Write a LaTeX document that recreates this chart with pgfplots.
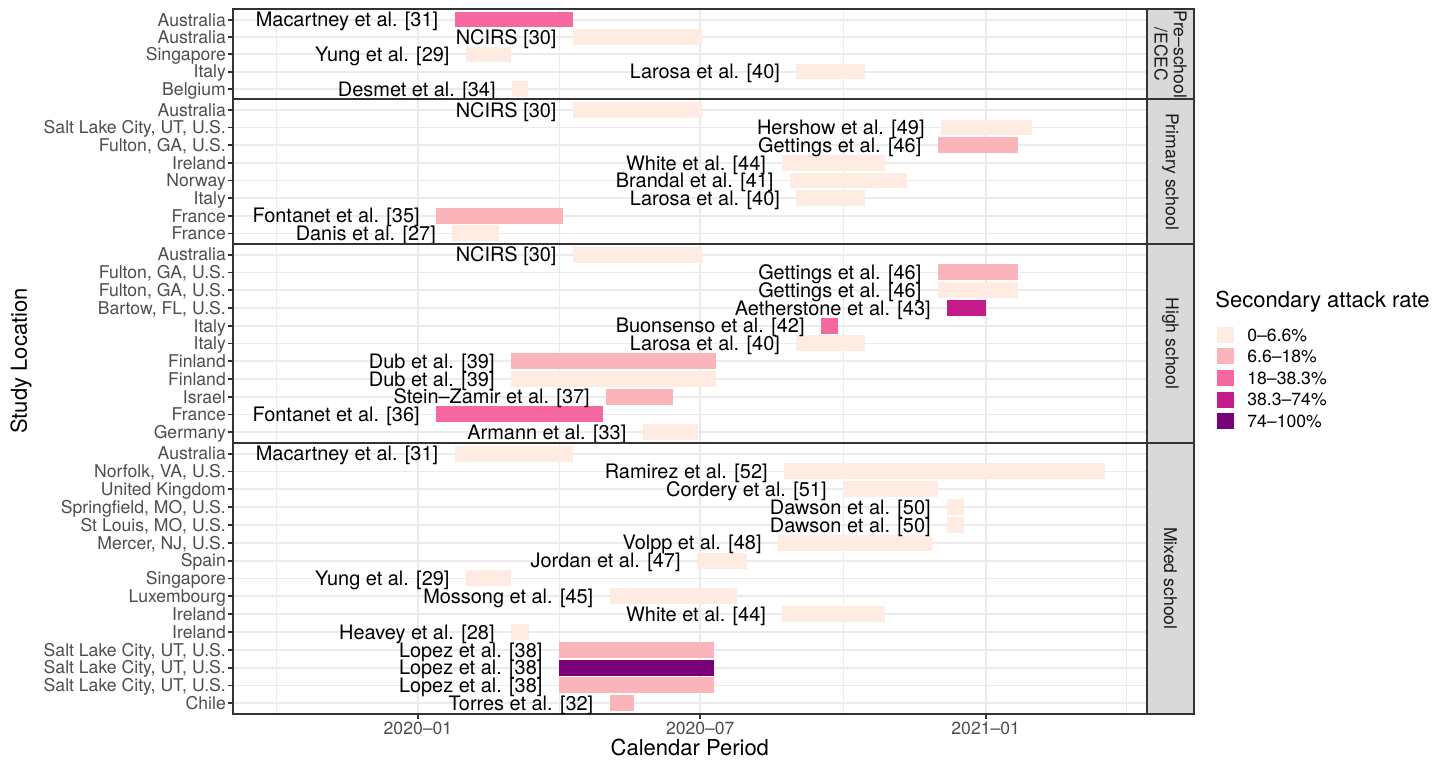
\documentclass[border=0pt]{standalone}
\usepackage{pgfplots}
\pgfplotsset{compat=1.18}
\usepackage{fontspec}
\setmainfont{TeX Gyre Heros}
\definecolor{c1}{HTML}{FEEBE2}
\definecolor{c2}{HTML}{FBB4B9}
\definecolor{c3}{HTML}{F768A1}
\definecolor{c4}{HTML}{C51B8A}
\definecolor{c5}{HTML}{7A0177}
\definecolor{gridc}{HTML}{EBEBEB}
\definecolor{framec}{HTML}{333333}
\definecolor{ticktxt}{HTML}{4D4D4D}
\definecolor{stripc}{HTML}{D9D9D9}
\definecolor{striptxt}{HTML}{1A1A1A}
\newcommand{\tickfont}{\fontsize{8.8}{10}\selectfont}
\newcommand{\labfont}{\fontsize{9.96}{11}\selectfont}
\newcommand{\bb}[5]{\addplot[fill=#5, draw=none] coordinates {(#1,#3) (#2,#3) (#2,#4) (#1,#4)} -- cycle;}
\newcommand{\lab}[3]{\node[anchor=base east, inner sep=0pt, xshift=-8pt, yshift=-3.6pt, font=\labfont] at (axis cs:#1,#2) {#3};}
\pgfplotsset{
  panel/.style={
    scale only axis, width=456.75pt,
    xmin=-119.1, xmax=469.8,
    y dir=reverse, ymin=0.4,
    axis line style={framec, line width=0.9pt},
    xmajorgrids, xminorgrids, ymajorgrids,
    major grid style={gridc, line width=0.9pt},
    minor grid style={gridc, line width=0.45pt},
    xtick={0,182,366},
    minor xtick={-91.5,91,274,457},
    xtick pos=bottom,
    ytick pos=left,
    tick align=outside,
    major tick length=2.5pt,
    minor tick length=0pt,
    tick style={framec, line width=0.9pt},
    yticklabel style={font=\tickfont, text=ticktxt, anchor=base east, inner sep=0pt, xshift=-1pt, yshift=-3.17pt},
    xticklabel style={font=\tickfont, text=ticktxt, inner sep=0pt, yshift=-1.5pt},
    anchor=south west,
  },
  upper/.style={xticklabels={,,}, xtick style={draw=none}},
}
\begin{document}
\begin{tikzpicture}
\useasboundingbox (0,0) rectangle (719.5pt,381pt);
% Panel 1: Pre-school / ECEC
\begin{axis}[panel, upper, at={(116.6pt,331.35pt)}, height=45pt, ymax=5.6,
  ytick={1,...,5},
  yticklabels={Australia, Australia, Singapore, Italy, Belgium}]
\bb{23.6}{99.9}{0.55}{1.45}{c3}
\bb{99.9}{182.8}{1.55}{2.45}{c1}
\bb{30.9}{59.7}{2.55}{3.45}{c1}
\bb{243.9}{288.2}{3.55}{4.45}{c1}
\bb{60.6}{70.9}{4.55}{5.45}{c1}
\lab{23.6}{1}{Macartney et al. [31]}
\lab{99.9}{2}{NCIRS [30]}
\lab{30.9}{3}{Yung et al. [29]}
\lab{243.9}{4}{Larosa et al. [40]}
\lab{60.6}{5}{Desmet et al. [34]}
\end{axis}
% Panel 2: Primary school
\begin{axis}[panel, upper, at={(116.6pt,259pt)}, height=72.35pt, ymax=8.6,
  ytick={1,...,8},
  yticklabels={Australia, {Salt Lake City, UT, U.S.}, {Fulton, GA, U.S.}, Ireland, Norway, Italy, France, France}]
\bb{99.9}{182.8}{0.55}{1.45}{c1}
\bb{337.2}{395.9}{1.55}{2.45}{c1}
\bb{335.1}{387.0}{2.55}{3.45}{c2}
\bb{234.9}{301.1}{3.55}{4.45}{c1}
\bb{239.8}{315.1}{4.55}{5.45}{c1}
\bb{243.9}{288.2}{5.55}{6.45}{c1}
\bb{11.7}{93.7}{6.55}{7.45}{c2}
\bb{22.1}{52.0}{7.55}{8.45}{c1}
\lab{99.9}{1}{NCIRS [30]}
\lab{337.2}{2}{Hershow et al. [49]}
\lab{335.1}{3}{Gettings et al. [46]}
\lab{234.9}{4}{White et al. [44]}
\lab{239.8}{5}{Brandal et al. [41]}
\lab{243.9}{6}{Larosa et al. [40]}
\lab{11.7}{7}{Fontanet et al. [35]}
\lab{22.1}{8}{Danis et al. [27]}
\end{axis}
% Panel 3: High school
\begin{axis}[panel, upper, at={(116.6pt,159.55pt)}, height=99.45pt, ymax=11.6,
  ytick={1,...,11},
  yticklabels={Australia, {Fulton, GA, U.S.}, {Fulton, GA, U.S.}, {Bartow, FL, U.S.}, Italy, Italy, Finland, Finland, Israel, France, Germany}]
\bb{99.9}{182.8}{0.55}{1.45}{c1}
\bb{335.1}{387.0}{1.55}{2.45}{c2}
\bb{335.1}{387.0}{2.55}{3.45}{c1}
\bb{341.1}{366.0}{3.55}{4.45}{c4}
\bb{259.8}{271.0}{4.55}{5.45}{c3}
\bb{243.9}{288.2}{5.55}{6.45}{c1}
\bb{60.0}{192.3}{6.55}{7.45}{c2}
\bb{60.0}{192.3}{7.55}{8.45}{c1}
\bb{121.3}{164.7}{8.55}{9.45}{c2}
\bb{11.7}{119.5}{9.55}{10.45}{c3}
\bb{144.9}{180.5}{10.55}{11.45}{c1}
\lab{99.9}{1}{NCIRS [30]}
\lab{335.1}{2}{Gettings et al. [46]}
\lab{335.1}{3}{Gettings et al. [46]}
\lab{341.1}{4}{Aetherstone et al. [43]}
\lab{259.8}{5}{Buonsenso et al. [42]}
\lab{243.9}{6}{Larosa et al. [40]}
\lab{60.0}{7}{Dub et al. [39]}
\lab{60.0}{8}{Dub et al. [39]}
\lab{121.3}{9}{Stein–Zamir et al. [37]}
\lab{11.7}{10}{Fontanet et al. [36]}
\lab{144.9}{11}{Armann et al. [33]}
\end{axis}
% Panel 4: Mixed school
\begin{axis}[panel, at={(116.6pt,24pt)}, height=135.55pt, ymax=15.6,
  ytick={1,...,15},
  yticklabels={Australia, {Norfolk, VA, U.S.}, United Kingdom, {Springfield, MO, U.S.}, {St Louis, MO, U.S.}, {Mercer, NJ, U.S.}, Spain, Singapore, Luxembourg, Ireland, Ireland, {Salt Lake City, UT, U.S.}, {Salt Lake City, UT, U.S.}, {Salt Lake City, UT, U.S.}, Chile},
  xticklabels={2020–01, 2020–07, 2021–01}]
\bb{23.6}{99.9}{0.55}{1.45}{c1}
\bb{236.0}{443.1}{1.55}{2.45}{c1}
\bb{274.0}{335.1}{2.55}{3.45}{c1}
\bb{341.1}{352.0}{3.55}{4.45}{c1}
\bb{341.1}{352.0}{4.55}{5.45}{c1}
\bb{232.1}{331.2}{5.55}{6.45}{c1}
\bb{179.9}{211.9}{6.55}{7.45}{c1}
\bb{30.9}{59.7}{7.55}{8.45}{c1}
\bb{123.6}{205.9}{8.55}{9.45}{c1}
\bb{234.9}{301.1}{9.55}{10.45}{c1}
\bb{60.0}{71.6}{10.55}{11.45}{c1}
\bb{90.8}{190.8}{11.55}{12.45}{c2}
\bb{90.8}{190.8}{12.55}{13.45}{c5}
\bb{90.8}{190.8}{13.55}{14.45}{c2}
\bb{123.6}{139.0}{14.55}{15.45}{c2}
\lab{23.6}{1}{Macartney et al. [31]}
\lab{236.0}{2}{Ramirez et al. [52]}
\lab{274.0}{3}{Cordery et al. [51]}
\lab{341.1}{4}{Dawson et al. [50]}
\lab{341.1}{5}{Dawson et al. [50]}
\lab{232.1}{6}{Volpp et al. [48]}
\lab{179.9}{7}{Jordan et al. [47]}
\lab{30.9}{8}{Yung et al. [29]}
\lab{123.6}{9}{Mossong et al. [45]}
\lab{234.9}{10}{White et al. [44]}
\lab{60.0}{11}{Heavey et al. [28]}
\lab{90.8}{12}{Lopez et al. [38]}
\lab{90.8}{13}{Lopez et al. [38]}
\lab{90.8}{14}{Lopez et al. [38]}
\lab{123.6}{15}{Torres et al. [32]}
\end{axis}
% Strips
\begin{scope}[every node/.style={rotate=-90, font=\fontsize{8.8}{9.65}\selectfont, text=striptxt, align=center, inner sep=0pt}]
\draw[fill=stripc, draw=framec, line width=0.9pt] (573.35pt,331.35pt) rectangle (597pt,376.35pt);
\node at (585.2pt,353.85pt) {Pre–school\\/ECEC};
\draw[fill=stripc, draw=framec, line width=0.9pt] (573.35pt,259pt) rectangle (597pt,331.35pt);
\node at (585.2pt,295.2pt) {Primary school};
\draw[fill=stripc, draw=framec, line width=0.9pt] (573.35pt,159.55pt) rectangle (597pt,259pt);
\node at (585.2pt,209.3pt) {High school};
\draw[fill=stripc, draw=framec, line width=0.9pt] (573.35pt,24pt) rectangle (597pt,159.55pt);
\node at (585.2pt,91.8pt) {Mixed school};
\end{scope}
% Axis titles
\node[rotate=90, font=\fontsize{11}{13}\selectfont, inner sep=0pt] at (10.5pt,200.5pt) {Study Location};
\node[anchor=base, font=\fontsize{11}{13}\selectfont, inner sep=0pt] at (344.9pt,3.15pt) {Calendar Period};
% Legend
\node[anchor=base west, font=\fontsize{11}{13}\selectfont, inner sep=0pt] at (607.5pt,227.15pt) {Secondary attack rate};
\fill[c1] (608.35pt,209.65pt) rectangle +(8.5pt,8pt);
\fill[c2] (608.35pt,199pt) rectangle +(8.5pt,8pt);
\fill[c3] (608.35pt,188pt) rectangle +(8.5pt,8pt);
\fill[c4] (608.35pt,177.25pt) rectangle +(8.5pt,8pt);
\fill[c5] (608.35pt,166.5pt) rectangle +(8.5pt,8pt);
\begin{scope}[every node/.style={anchor=base west, inner sep=0pt, font=\tickfont, yshift=-3.17pt}]
\node at (623.5pt,213.65pt) {0–6.6\%};
\node at (623.5pt,203pt) {6.6–18\%};
\node at (623.5pt,192pt) {18–38.3\%};
\node at (623.5pt,181.25pt) {38.3–74\%};
\node at (623.5pt,170.5pt) {74–100\%};
\end{scope}
\end{tikzpicture}
\end{document}
